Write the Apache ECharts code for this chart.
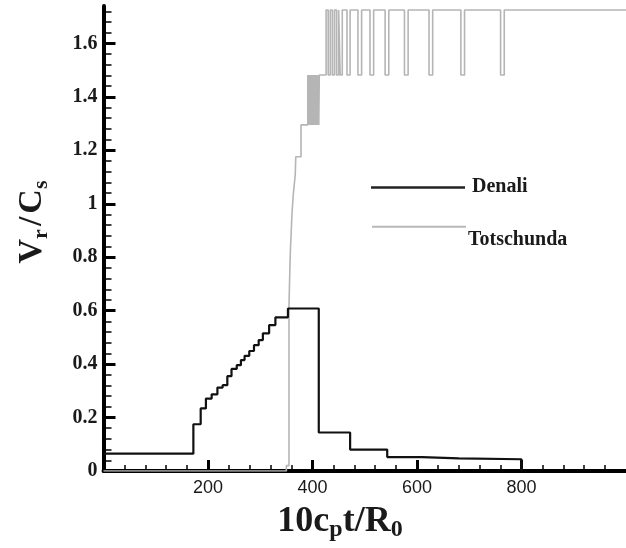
<!DOCTYPE html>
<html><head><meta charset="utf-8">
<script src="https://cdn.jsdelivr.net/npm/echarts@6/dist/echarts.min.js"></script>
<style>html,body{margin:0;padding:0;background:#fff}#c{width:626px;height:548px}</style>
</head><body><div id="c"></div>
<script>
// Denali: step function, value holds from x[i] to x[i+1]
const denaliX = [0,172,186,196,207,218,228,237,245,255,263,270,279,288,297,305,317,329,353,412,472,543,610,680,800];
const denaliY = [0.065,0.175,0.234,0.271,0.287,0.312,0.321,0.355,0.382,0.396,0.415,0.431,0.449,0.471,0.49,0.515,0.546,0.575,0.608,0.144,0.080,0.052,0.047,0.044,0];

// Totschunda: step function
const totX = [0,350,355,356,357,358,359,360,361,362,363,364,365,366,367,368,378,
  391,392,393,394,395,396,397,398,399,400,401,402,403,404,405,406,407,408,409,410,411,412,413,
  426,430,434,438,442,446,450,453,457,466,472,487,494,510,517,539,546,576,583,623,630,684,691,760,767,1000];
const totY = [0,0.02,0.62,0.7,0.78,0.84,0.88,0.93,0.97,1.0,1.03,1.05,1.07,1.09,1.11,1.176,1.295,
  1.482,1.295,1.482,1.295,1.482,1.295,1.482,1.295,1.482,1.295,1.482,1.295,1.482,1.295,1.482,1.295,1.482,1.295,1.482,1.295,1.482,1.295,1.482,
  1.725,1.482,1.725,1.482,1.725,1.482,1.725,1.482,1.725,1.482,1.725,1.482,1.725,1.482,1.725,1.482,1.725,1.482,1.725,1.482,1.725,1.482,1.725,1.482,1.725,1.725];

const xMajorTicks = [200,400,600,800];
const yMajorTicks = [0,0.2,0.4,0.6,0.8,1,1.2,1.4,1.6];
const xMinorTicks = [];
for (let v = 40; v < 1000; v += 40) if (v % 200 !== 0) xMinorTicks.push(v);
const yMinorTicks = [];
for (let i = 1; i <= 43; i++) if (i % 5 !== 0) yMinorTicks.push(Math.round(i * 4) / 100);

const serifBold = {fontFamily:'Liberation Serif', fontWeight:'bold'};
const chart = echarts.init(document.getElementById('c'), null, {renderer:'canvas'});
const axisLineStyle = {color:'#000', width:4};
chart.setOption({
  animation:false,
  backgroundColor:'#fff',
  grid:{left:103.5, top:6, width:524, height:465, containLabel:false},
  xAxis:[
    {type:'value', min:0, max:1000, interval:200,
     axisLine:{show:true, onZero:false, lineStyle:axisLineStyle},
     axisTick:{show:true, inside:true, length:11, customValues:xMajorTicks, lineStyle:{color:'#000', width:3}},
     axisLabel:{show:true, customValues:xMajorTicks, margin:8, fontFamily:'Liberation Sans', fontSize:18, color:'#1a1a1a'},
     splitLine:{show:false}},
    {type:'value', min:0, max:1000, position:'bottom',
     axisLine:{show:false}, axisLabel:{show:false}, splitLine:{show:false},
     axisTick:{show:true, inside:true, length:6, customValues:xMinorTicks, lineStyle:{color:'#000', width:1.5}}}
  ],
  yAxis:[
    {type:'value', min:0, max:1.74, interval:0.2,
     axisLine:{show:true, onZero:false, lineStyle:axisLineStyle},
     axisTick:{show:true, inside:true, length:12, customValues:yMajorTicks, lineStyle:{color:'#000', width:3}},
     axisLabel:{show:true, customValues:yMajorTicks, margin:6, fontSize:20, color:'#1a1a1a', fontFamily:'Liberation Serif', fontWeight:'bold'},
     splitLine:{show:false}},
    {type:'value', min:0, max:1.74, position:'left',
     axisLine:{show:false}, axisLabel:{show:false}, splitLine:{show:false},
     axisTick:{show:true, inside:true, length:8, customValues:yMinorTicks, lineStyle:{color:'#000', width:1.5}}}
  ],
  series:[
    {name:'Totschunda', type:'line', step:'end', xAxisIndex:0, yAxisIndex:0,
     data: totX.map((x,i)=>[x,totY[i]]), showSymbol:false, symbol:'none',
     lineStyle:{color:'#b5b5b5', width:1.6}, z:2},
    {name:'Denali', type:'line', step:'end', xAxisIndex:0, yAxisIndex:0,
     data: denaliX.map((x,i)=>[x,denaliY[i]]), showSymbol:false, symbol:'none',
     lineStyle:{color:'#111', width:2.2}, z:3}
  ],
  graphic:[
    {type:'line', shape:{x1:371, y1:187.5, x2:465, y2:187.5}, style:{stroke:'#222', lineWidth:2.5}},
    {type:'text', x:472, y:187, style:{text:'Denali', fill:'#1a1a1a', font:'bold 20px "Liberation Serif"', verticalAlign:'middle', align:'left'}},
    {type:'line', shape:{x1:372, y1:226.7, x2:466, y2:226.7}, style:{stroke:'#b8b8b8', lineWidth:2}},
    {type:'text', x:468, y:240, style:{text:'Totschunda', fill:'#1a1a1a', font:'bold 20px "Liberation Serif"', verticalAlign:'middle', align:'left'}},
    {type:'text', x:340, y:522, style:{
      text:'{a|10c}{b|p}{a|t/R}{b|0}', align:'center', verticalAlign:'middle',
      rich:{a:Object.assign({fontSize:36, lineHeight:40, fill:'#1a1a1a'}, serifBold),
            b:Object.assign({fontSize:24, lineHeight:8, verticalAlign:'bottom', fill:'#1a1a1a'}, serifBold)}}},
    {type:'text', x:32, y:222, rotation:Math.PI/2, style:{
      text:'{a|V}{b|r}{c|/}{a|C}{b|s}', align:'center', verticalAlign:'middle',
      rich:{a:Object.assign({fontSize:34, lineHeight:40, fill:'#1a1a1a'}, serifBold),
            c:Object.assign({fontSize:34, lineHeight:40, padding:[0,3,0,3], fill:'#1a1a1a'}, serifBold),
            b:Object.assign({fontSize:22, lineHeight:8, verticalAlign:'bottom', fill:'#1a1a1a'}, serifBold)}}}
  ]
});
</script></body></html>
